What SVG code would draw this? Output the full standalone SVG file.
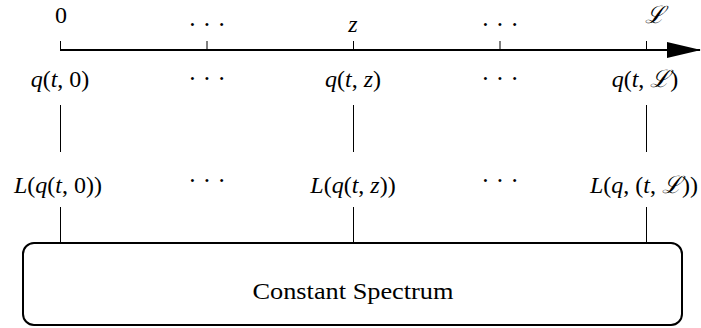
<svg xmlns="http://www.w3.org/2000/svg" width="701" height="328" viewBox="0 0 701 328">
<style>
text{font-family:"Liberation Serif","DejaVu Serif",serif;font-size:24px;fill:#000;text-anchor:middle}
.i{font-style:italic}
.dots{font-size:25px}
.thin{stroke:#000;stroke-width:1;fill:none}
</style>
<defs>
<marker id="ah" markerWidth="34" markerHeight="16" refX="33" refY="8" orient="auto" markerUnits="userSpaceOnUse">
<path d="M0,0 L34,8 L0,16 Z" fill="#000"/>
</marker>
</defs>
<g id="axis">
<line x1="60" y1="50" x2="700" y2="50" stroke="#000" stroke-width="2.2" marker-end="url(#ah)"/>
<path class="thin" d="M60.5,41V50 M207,41V50 M353.5,41V50 M500,41V50 M646.5,41V50"/>
<text x="61" y="23">0</text>
<text class="dots" x="207" y="33">· · ·</text>
<text class="i" x="353" y="32">z</text>
<text class="dots" x="500" y="33">· · ·</text>
<text class="i" x="655" y="23">ℒ</text>
</g>
<g id="q-row">
<text x="60" y="87"><tspan class="i">q</tspan>(<tspan class="i">t</tspan>, 0)</text>
<text class="dots" x="207" y="87">· · ·</text>
<text x="353" y="87"><tspan class="i">q</tspan>(<tspan class="i">t</tspan>, <tspan class="i">z</tspan>)</text>
<text class="dots" x="500" y="87">· · ·</text>
<text x="645" y="87"><tspan class="i">q</tspan>(<tspan class="i">t</tspan>, <tspan class="i">ℒ</tspan>)</text>
</g>
<g id="L-row">
<text x="58" y="193"><tspan class="i">L</tspan>(<tspan class="i">q</tspan>(<tspan class="i">t</tspan>, 0))</text>
<text class="dots" x="207" y="189">· · ·</text>
<text x="353" y="193"><tspan class="i">L</tspan>(<tspan class="i">q</tspan>(<tspan class="i">t</tspan>, <tspan class="i">z</tspan>))</text>
<text class="dots" x="500" y="189">· · ·</text>
<text x="644" y="193"><tspan class="i">L</tspan>(<tspan class="i">q</tspan>, (<tspan class="i">t</tspan>, <tspan class="i">ℒ</tspan>))</text>
</g>
<g id="connectors">
<path class="thin" d="M60.5,105V152 M353.5,105V152 M646.5,105V152 M60.5,207V243 M353.5,207V243 M646.5,207V243"/>
</g>
<g id="spectrum">
<rect x="23" y="243" width="659" height="82" rx="11" ry="11" fill="#fff" stroke="#000" stroke-width="2"/>
<text x="353" y="299" textLength="201" lengthAdjust="spacingAndGlyphs">Constant Spectrum</text>
</g>
</svg>
